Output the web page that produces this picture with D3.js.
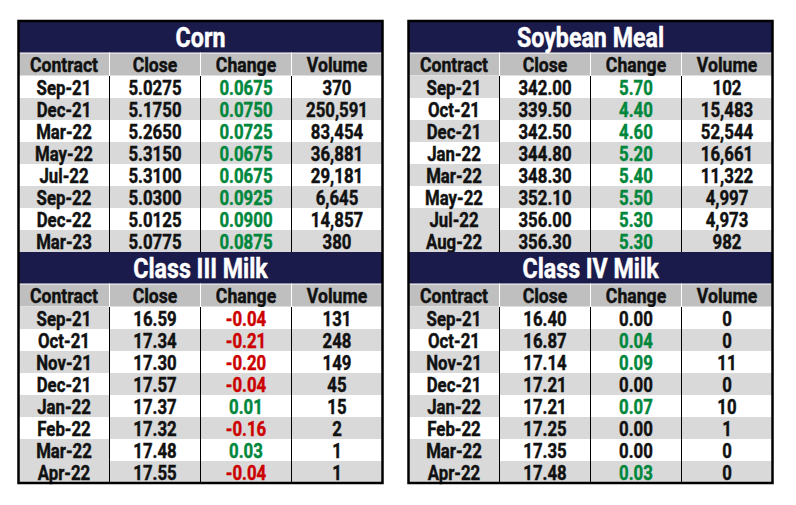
<!DOCTYPE html>
<html>
<head>
<meta charset="utf-8">
<script src="https://d3js.org/d3.v7.min.js"></script>
<style>
  html, body { margin: 0; padding: 0; background: #fff; }
  svg text { font-family: Roboto, "DejaVu Sans Condensed", sans-serif; font-weight: bold; stroke-width: 0.45px; }
</style>
</head>
<body>
<svg id="chart"></svg>
<script>
var width = 796, height = 505;

var columns = ["Contract", "Close", "Change", "Volume"];

// Corn
var cornContracts = ["Sep-21", "Dec-21", "Mar-22", "May-22", "Jul-22", "Sep-22", "Dec-22", "Mar-23"];
var cornClose = ["5.0275", "5.1750", "5.2650", "5.3150", "5.3100", "5.0300", "5.0125", "5.0775"];
var cornChange = ["0.0675", "0.0750", "0.0725", "0.0675", "0.0675", "0.0925", "0.0900", "0.0875"];
var cornVolume = ["370", "250,591", "83,454", "36,881", "29,181", "6,645", "14,857", "380"];

// Soybean Meal
var soyContracts = ["Sep-21", "Oct-21", "Dec-21", "Jan-22", "Mar-22", "May-22", "Jul-22", "Aug-22"];
var soyClose = ["342.00", "339.50", "342.50", "344.80", "348.30", "352.10", "356.00", "356.30"];
var soyChange = ["5.70", "4.40", "4.60", "5.20", "5.40", "5.50", "5.30", "5.30"];
var soyVolume = ["102", "15,483", "52,544", "16,661", "11,322", "4,997", "4,973", "982"];

// Class III Milk
var c3Contracts = ["Sep-21", "Oct-21", "Nov-21", "Dec-21", "Jan-22", "Feb-22", "Mar-22", "Apr-22"];
var c3Close = ["16.59", "17.34", "17.30", "17.57", "17.37", "17.32", "17.48", "17.55"];
var c3Change = ["-0.04", "-0.21", "-0.20", "-0.04", "0.01", "-0.16", "0.03", "-0.04"];
var c3Volume = ["131", "248", "149", "45", "15", "2", "1", "1"];

// Class IV Milk
var c4Contracts = ["Sep-21", "Oct-21", "Nov-21", "Dec-21", "Jan-22", "Feb-22", "Mar-22", "Apr-22"];
var c4Close = ["16.40", "16.87", "17.14", "17.21", "17.21", "17.25", "17.35", "17.48"];
var c4Change = ["0.00", "0.04", "0.09", "0.00", "0.07", "0.00", "0.00", "0.03"];
var c4Volume = ["0", "0", "11", "0", "10", "1", "0", "0"];

var tables = [
  { title: "Corn", contracts: cornContracts, close: cornClose, change: cornChange, volume: cornVolume, col: 0, row: 0, shifted: false },
  { title: "Soybean Meal", contracts: soyContracts, close: soyClose, change: soyChange, volume: soyVolume, col: 1, row: 0, shifted: true },
  { title: "Class III Milk", contracts: c3Contracts, close: c3Close, change: c3Change, volume: c3Volume, col: 0, row: 1, shifted: true },
  { title: "Class IV Milk", contracts: c4Contracts, close: c4Close, change: c4Change, volume: c4Volume, col: 1, row: 1, shifted: true }
];

var navy = "#1b1b4b", headGray = "#bfbfbf", stripe = "#d9d9d9";
var green = "#00873c", red = "#cc0000";

var panelX = [[18.5, 382.5], [408.5, 772.5]];
var sectionTop = [21, 252];
var titleH = 32, headH = 23, rowH = 22;
var squeeze = 0.82; // narrow the glyphs, the original face is condensed

var svg = d3.select("#chart").attr("width", width).attr("height", height);

function place(sel, fx, fy, k) {
  sel.attr("transform", function(d) { return "translate(" + fx(d) + "," + fy(d) + ") scale(" + k + ",1)"; })
    .attr("text-anchor", "middle").attr("dominant-baseline", "central");
}

tables.forEach(function(t) {
  var x = d3.scaleBand().domain(columns).range(panelX[t.col]);
  var top = sectionTop[t.row];
  var y = d3.scaleBand().domain(t.contracts).range([top + titleH + headH, top + titleH + headH + rowH * t.contracts.length]);
  var g = svg.append("g");

  // title bar
  g.append("rect").attr("x", x.range()[0]).attr("y", top)
    .attr("width", x.range()[1] - x.range()[0]).attr("height", titleH)
    .attr("fill", navy);
  g.append("text").datum(t.title)
    .call(place, function() { return (x.range()[0] + x.range()[1]) / 2; }, function() { return top + titleH / 2 + 1; }, 0.86)
    .attr("fill", "#fff").attr("stroke", "#fff").attr("font-size", 27).text(t.title);

  // header
  g.selectAll(".hd").data(columns).enter().append("rect")
    .attr("x", function(d) { return x(d); }).attr("y", top + titleH)
    .attr("width", x.bandwidth()).attr("height", headH)
    .attr("fill", headGray).attr("stroke", "#fff").attr("stroke-width", 1);
  g.selectAll(".ht").data(columns).enter().append("text")
    .call(place, function(d) { return x(d) + x.bandwidth() / 2; }, function() { return top + titleH + headH / 2 + 1; }, 0.86)
    .attr("font-size", 20.5).attr("fill", "#111").attr("stroke", "#111").text(function(d) { return d; });

  // cells
  var cells = [];
  t.contracts.forEach(function(c, i) {
    var vals = [c, t.close[i], t.change[i], t.volume[i]];
    columns.forEach(function(col, j) {
      var gray;
      if (j === 0 && t.shifted) gray = (i % 2 === 0) || i === t.contracts.length - 1;
      else gray = i % 2 === 1;
      var color = "#111";
      if (j === 2) {
        var v = +vals[j];
        color = v > 0 ? green : (v < 0 ? red : "#111");
      }
      cells.push({ row: c, col: col, text: vals[j], fill: gray ? stripe : "#fff", color: color });
    });
  });

  g.selectAll(".cell").data(cells).enter().append("rect")
    .attr("x", function(d) { return x(d.col); }).attr("y", function(d) { return y(d.row); })
    .attr("width", x.bandwidth()).attr("height", y.bandwidth())
    .attr("fill", function(d) { return d.fill; });

  g.selectAll(".ct").data(cells).enter().append("text")
    .call(place, function(d) { return x(d.col) + x.bandwidth() / 2; }, function(d) { return y(d.row) + y.bandwidth() / 2 + 1; }, squeeze)
    .attr("font-size", 20.5)
    .attr("fill", function(d) { return d.color; })
    .attr("stroke", function(d) { return d.color; })
    .text(function(d) { return d.text; });

  // column separators in the body
  g.selectAll(".vl").data(columns.slice(1)).enter().append("line")
    .attr("x1", function(d) { return x(d); }).attr("x2", function(d) { return x(d); })
    .attr("y1", y.range()[0]).attr("y2", y.range()[1])
    .attr("stroke", "#000").attr("stroke-width", 1);
});

// outer borders
panelX.forEach(function(px) {
  svg.append("rect").attr("x", px[0]).attr("y", sectionTop[0])
    .attr("width", px[1] - px[0]).attr("height", sectionTop[1] + titleH + headH + rowH * 8 - sectionTop[0])
    .attr("fill", "none").attr("stroke", "#000").attr("stroke-width", 2.5);
});
</script>
</body>
</html>
